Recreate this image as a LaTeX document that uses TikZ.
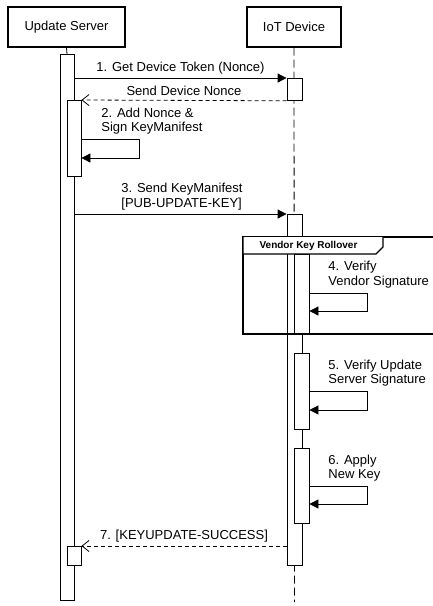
\documentclass[tikz,border=0pt]{standalone}
\usepackage{fontspec}
\setmainfont{Liberation Sans}
\usetikzlibrary{arrows.meta}

\tikzset{
    actor/.style={draw, line width=1.4pt, minimum height=40pt, inner sep=0pt, font=\fontsize{13}{15}\selectfont},
    actbar/.style={draw, fill=white, minimum width=14pt, anchor=north, inner sep=0pt},
    msg/.style={-{Triangle[length=9pt,width=9pt]}},
    reply/.style={dash pattern=on 4pt off 3pt, -{Straight Barb[length=7pt,width=11pt]}},
    lbl/.style={font=\fontsize{13}{14.5}\selectfont, inner sep=0pt, align=left},
    lifeline/.style={dash pattern=on 8pt off 4pt}
}

\begin{document}
\begin{tikzpicture}[x=1pt, y=-1pt, line width=0.8pt]
    \path[use as bounding box, clip] (0,0) rectangle (433,606);
    % actors
        \node[actor, minimum width=117pt] (srv) at (66.5,27) {Update Server};
        \node[actor, minimum width=94pt] (dev) at (294,27) {IoT Device};
    % lifelines
        \coordinate (devend) at (294.5,602);
        \draw[lifeline] (dev.south) -- (devend);
    % activation bars
        \node[actbar, minimum height=546pt] (srvbar) at (67,54) {};
        \draw (srv.south) -- (srvbar.north);
        \node[actbar, minimum height=76pt] (srvact2) at (74,100) {};
        \node[actbar, minimum height=19pt] (srvact7) at (74,546) {};
        \node[actbar, minimum width=15pt, minimum height=22pt] (devact1) at (294.5,78) {};
        \node[actbar, minimum width=15pt, minimum height=351pt] (devbar) at (294.5,214) {};
        \node[actbar, minimum width=15pt, minimum height=80pt] (devact4) at (301.5,254) {};
        \node[actbar, minimum width=15pt, minimum height=76pt] (devact5) at (301.5,353) {};
        \node[actbar, minimum width=15pt, minimum height=75pt] (devact6) at (301.5,448) {};
    % frame
        \draw[line width=1.2pt] (243,237) rectangle (440,334);
        \draw[line width=1.2pt, fill=white] (243,237) -- (243,254) -- (376,254) -- (383,247) -- (383,237);
        \node[font=\fontsize{10}{12}\selectfont\bfseries, inner sep=0pt] (frm) at (308.5,245.5) {Vendor Key Rollover};
    % messages
        \draw[msg] (srvbar.east |- devact1.north) -- (devact1.north west);
        \node[lbl] (m1) at (180.5,68) {1. Get Device Token (Nonce)};
        \draw[reply] (devact1.south west) -- (srvact2.north east);
        \node[lbl] (m1r) at (184,91) {Send Device Nonce};
        \draw[msg] (srvact2.east |- 0,139) -- ++(58,0) |- (srvact2.east |- 0,158);
        \node[lbl, anchor=west] (m2) at (101,121) {2. Add Nonce \&\\Sign KeyManifest};
        \draw[msg] (srvbar.east |- devbar.north) -- (devbar.north west);
        \node[lbl, anchor=west] (m3) at (121,196.5) {3. Send KeyManifest\\{[}PUB-UPDATE-KEY{]}};
        \draw[msg] (devact4.east |- 0,293) -- ++(58,0) |- (devact4.east |- 0,311);
        \node[lbl, anchor=west] (m4) at (328,274.5) {4. Verify\\Vendor Signature};
        \draw[msg] (devact5.east |- 0,391) -- ++(58,0) |- (devact5.east |- 0,410);
        \node[lbl, anchor=west] (m5) at (328,373) {5. Verify Update\\Server Signature};
        \draw[msg] (devact6.east |- 0,486) -- ++(58,0) |- (devact6.east |- 0,504);
        \node[lbl, anchor=west] (m6) at (328,468) {6. Apply\\New Key};
        \draw[reply] (devbar.west |- srvact7.north) -- (srvact7.north east);
        \node[lbl] (m7) at (184,536) {7. [KEYUPDATE-SUCCESS]};
\end{tikzpicture}
\end{document}
